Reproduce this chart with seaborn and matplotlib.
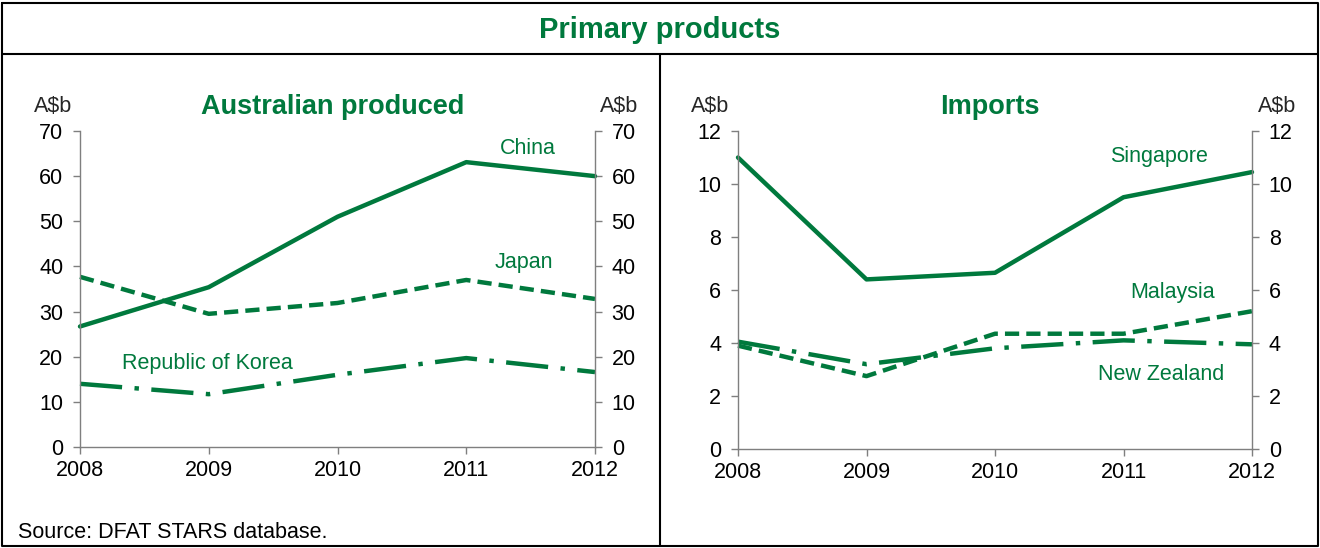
import matplotlib
matplotlib.use("Agg")
import matplotlib.pyplot as plt
import seaborn as sns
import pandas as pd
from matplotlib.lines import Line2D

# data (A$b)
years = [2008, 2009, 2010, 2011, 2012]
china = [26.7, 35.4, 51.0, 63.1, 60.0]
japan = [37.7, 29.5, 31.9, 37.0, 32.8]
korea = [14.0, 11.7, 16.0, 19.7, 16.6]
singapore = [11.0, 6.4, 6.65, 9.5, 10.45]
malaysia = [3.9, 2.75, 4.35, 4.35, 5.2]
new_zealand = [4.05, 3.2, 3.8, 4.1, 3.95]

green = "#00793D"
W, H = 1320, 548
FS = 15.5

sns.set_theme(style="white")
plt.rcParams["font.family"] = ["Liberation Sans", "DejaVu Sans"]

fig = plt.figure(figsize=(W / 100, H / 100), dpi=100)


def fx(x):
    return x / W


def fy(y):
    return 1 - y / H


# frame lines
for xs, ys, lw in [([2, 1318, 1318, 2, 2], [3, 3, 546, 546, 3], 1.5),
                   ([2, 1318], [54, 54], 1.5),
                   ([660, 660], [54, 546], 1.5)]:
    fig.add_artist(Line2D([fx(v) for v in xs], [fy(v) for v in ys], color="black", lw=lw))

fig.text(fx(660), fy(30), "Primary products", color=green, fontsize=21,
         fontweight="bold", ha="center", va="center")
fig.text(fx(18), fy(532), "Source: DFAT STARS database.", fontsize=FS,
         ha="left", va="center", color="black")


def panel(rect, series, labels, styles, ymax, ystep, title, title_x, unit_x, notes):
    ax = fig.add_axes(rect)
    rows = []
    for name, vals in zip(labels, series):
        for yr, v in zip(years, vals):
            rows.append({"year": yr, "value": v, "country": name})
    df = pd.DataFrame(rows)
    sns.lineplot(data=df, x="year", y="value", style="country",
                 dashes=styles, color=green, lw=3.2, legend=False, ax=ax,
                 sort=False)
    ax.set_xlim(2008, 2012)
    ax.set_ylim(0, ymax)
    ax.set_xticks(years)
    ax.set_yticks(range(0, ymax + 1, ystep))
    ax.set_xlabel("")
    ax.set_ylabel("")
    ax.spines["top"].set_visible(False)
    for s in ["left", "right", "bottom"]:
        ax.spines[s].set_color("#7f7f7f")
        ax.spines[s].set_linewidth(1.0)
    ax.tick_params(axis="y", left=True, right=True, labelleft=True, labelright=True,
                   direction="out", length=5, width=1, color="#7f7f7f",
                   labelsize=FS, labelcolor="black", pad=7)
    ax.tick_params(axis="x", bottom=True, direction="out", length=5, width=1,
                   color="#7f7f7f", labelsize=FS, labelcolor="black", pad=4)
    for ln in ax.get_lines():
        ln.set_clip_on(False)
    fig.text(fx(unit_x[0]), fy(107), "A$b", ha="right", va="center", fontsize=FS)
    fig.text(fx(unit_x[1]), fy(107), "A$b", ha="left", va="center", fontsize=FS)
    fig.text(fx(title_x), fy(107), title, color=green, fontsize=19.5,
             fontweight="bold", ha="center", va="center")
    for txt, x, y in notes:
        ax.text(x, y, txt, color=green, fontsize=FS, ha="center", va="center")
    return ax


panel([fx(80), fy(447), fx(595) - fx(80), fy(131) - fy(447)],
      [china, japan, korea], ["China", "Japan", "Republic of Korea"],
      {"China": "", "Japan": (3.2, 1.6), "Republic of Korea": (9.5, 2.8, 1.0, 2.8)},
      70, 10, "Australian produced", 333, (72, 600),
      [("China", 2011.48, 66.2), ("Japan", 2011.45, 40.8),
       ("Republic of Korea", 2008.99, 18.4)])

panel([fx(738), fy(449), fx(1252) - fx(738), fy(131) - fy(449)],
      [singapore, malaysia, new_zealand], ["Singapore", "Malaysia", "New Zealand"],
      {"Singapore": "", "Malaysia": (3.2, 1.6), "New Zealand": (9.5, 2.8, 1.0, 2.8)},
      12, 2, "Imports", 990, (729, 1258),
      [("Singapore", 2011.28, 11.02), ("Malaysia", 2011.38, 5.92),
       ("New Zealand", 2011.29, 2.83)])

fig.savefig("out.png", dpi=100)
